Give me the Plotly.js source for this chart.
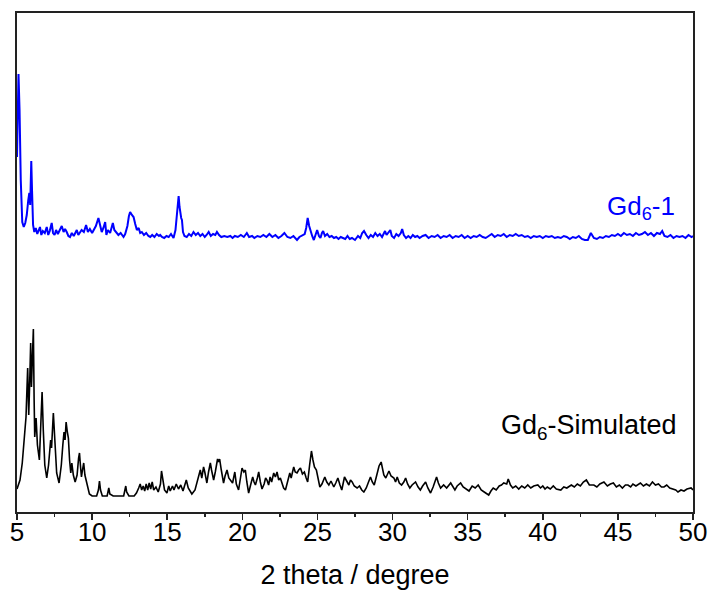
<!DOCTYPE html>
<html>
<head>
<meta charset="utf-8">
<script src="https://cdn.plot.ly/plotly-3.0.1.min.js"></script>
<style>html,body{margin:0;padding:0;background:#fff;}#chart{width:710px;height:592px;}</style>
</head>
<body>
<div id="chart"></div>
<script>
// 2 theta (degree) and intensity (offset-stacked, arbitrary units)
const simTheta = [5.00,5.20,5.35,5.50,5.60,5.71,5.78,5.85,5.91,5.96,6.03,6.09,6.14,6.18,6.27,6.36,6.49,6.58,6.67,6.75,6.85,6.98,7.10,7.24,7.30,7.42,7.52,7.64,7.80,7.95,8.05,8.13,8.20,8.27,8.35,8.42,8.50,8.58,8.65,8.75,8.87,9.00,9.10,9.16,9.22,9.29,9.36,9.44,9.52,9.64,9.82,10.00,10.30,10.42,10.49,10.56,10.68,11.00,11.07,11.11,11.18,11.40,12.10,12.18,12.24,12.30,12.45,12.80,12.95,13.10,13.20,13.30,13.40,13.50,13.60,13.70,13.80,13.90,14.00,14.10,14.25,14.40,14.55,14.62,14.70,14.82,14.98,15.10,15.20,15.35,15.45,15.60,15.75,15.90,16.05,16.15,16.27,16.40,16.64,16.85,17.00,17.09,17.20,17.30,17.42,17.50,17.64,17.75,17.87,17.95,18.09,18.20,18.35,18.42,18.49,18.60,18.75,18.85,18.98,19.10,19.20,19.35,19.50,19.60,19.75,19.88,19.98,20.10,20.20,20.30,20.42,20.55,20.69,20.78,20.87,21.00,21.09,21.20,21.31,21.45,21.55,21.64,21.75,21.85,21.95,22.09,22.20,22.31,22.42,22.53,22.65,22.75,22.87,23.00,23.16,23.25,23.42,23.52,23.64,23.75,23.87,24.00,24.13,24.25,24.35,24.48,24.60,24.70,24.80,24.93,25.05,25.16,25.30,25.49,25.62,25.76,25.90,26.09,26.22,26.36,26.50,26.62,26.80,26.95,27.09,27.20,27.31,27.45,27.64,27.80,27.95,28.09,28.25,28.40,28.53,28.65,28.78,28.90,28.98,29.10,29.24,29.32,29.42,29.55,29.65,29.76,29.90,30.09,30.20,30.31,30.45,30.60,30.75,30.87,31.00,31.15,31.30,31.53,31.70,31.85,32.00,32.20,32.35,32.53,32.70,32.85,32.93,33.05,33.20,33.40,33.60,33.87,34.00,34.15,34.30,34.53,34.70,34.90,35.09,35.30,35.50,35.70,35.90,36.10,36.40,36.55,36.70,36.90,37.10,37.25,37.40,37.60,37.70,37.85,38.00,38.20,38.40,38.60,38.80,39.00,39.20,39.40,39.67,39.85,40.00,40.15,40.30,40.50,40.70,40.90,41.20,41.40,41.60,41.90,42.10,42.30,42.50,42.70,42.90,43.10,43.40,43.60,43.80,44.07,44.30,44.50,44.70,44.90,45.10,45.30,45.50,45.67,45.85,46.00,46.20,46.50,46.70,46.90,47.10,47.30,47.50,47.70,47.90,48.07,48.25,48.45,48.65,48.85,49.00,49.20,49.40,49.60,49.87,50.00];
const simIntensity = [23,32,49,72,95,144,97,132,169,125,162,183,112,75,94,67,52,82,120,82,47,34,47,72,64,99,67,39,29,47,67,80,72,90,80,74,52,39,49,37,30,37,54,59,47,35,42,49,37,29,18,16,16,22,31,22,16,16,22,24,18,16,16,22,26,20,16,16,19,24,28,22,26,21,28,22,29,23,30,22,25,20,28,41,32,22,19,26,21,26,22,28,23,27,21,26,32,24,18,22,30,35,42,34,45,40,29,40,49,42,32,40,53,50,53,42,29,36,42,34,32,29,40,28,22,36,44,40,42,30,19,27,35,30,27,34,40,30,23,28,34,32,27,35,30,39,35,40,32,34,28,24,22,30,39,34,45,40,39,42,44,38,40,34,30,47,61,52,45,42,32,25,28,35,30,27,31,25,29,34,27,22,35,30,27,32,30,26,24,26,22,20,24,30,35,30,27,34,40,46,50,44,37,34,38,41,36,34,30,35,29,27,30,34,28,24,27,30,25,22,26,30,24,19,25,32,35,29,24,27,24,29,25,22,26,29,25,23,21,26,24,27,22,20,17,21,24,22,26,27,29,28,33,27,24,26,23,26,24,27,24,26,27,24,26,23,25,23,26,23,22,25,24,27,25,28,26,30,32,27,27,25,28,30,26,28,29,25,27,24,27,27,25,28,26,29,26,28,26,30,27,28,25,25,27,24,23,22,20,22,21,23,24,22];

const expTheta = [5.00,5.05,5.10,5.17,5.25,5.35,5.45,5.55,5.65,5.75,5.82,5.88,5.95,6.00,6.07,6.15,6.25,6.35,6.45,6.53,6.62,6.72,6.85,6.98,7.08,7.18,7.31,7.40,7.50,7.60,7.72,7.85,7.98,8.10,8.20,8.31,8.42,8.53,8.65,8.78,8.90,8.98,9.08,9.18,9.30,9.45,9.60,9.72,9.85,10.00,10.10,10.25,10.42,10.53,10.64,10.75,10.87,10.95,11.05,11.20,11.38,11.48,11.60,11.75,11.90,12.09,12.20,12.35,12.45,12.53,12.65,12.76,12.87,12.98,13.10,13.20,13.31,13.45,13.60,13.75,13.87,14.00,14.15,14.30,14.45,14.53,14.65,14.80,14.95,15.10,15.25,15.42,15.55,15.65,15.70,15.76,15.82,15.87,15.93,15.98,16.05,16.15,16.30,16.45,16.60,16.75,16.90,17.05,17.20,17.35,17.50,17.62,17.76,17.90,18.05,18.20,18.31,18.45,18.60,18.80,19.00,19.20,19.35,19.50,19.70,19.90,20.10,20.30,20.45,20.65,20.80,21.00,21.20,21.40,21.60,21.80,22.00,22.20,22.40,22.60,22.80,23.00,23.20,23.40,23.64,23.80,24.00,24.15,24.25,24.35,24.45,24.55,24.65,24.76,24.85,24.98,25.10,25.20,25.30,25.38,25.50,25.65,25.80,25.95,26.10,26.25,26.40,26.55,26.70,26.85,27.00,27.15,27.30,27.50,27.70,27.85,27.98,28.10,28.25,28.40,28.55,28.70,28.85,29.00,29.15,29.30,29.50,29.60,29.75,29.85,29.95,30.10,30.25,30.40,30.55,30.64,30.75,30.90,31.05,31.20,31.35,31.50,31.65,31.80,32.00,32.20,32.40,32.60,32.80,33.00,33.20,33.40,33.60,33.80,34.00,34.20,34.40,34.60,34.80,35.00,35.20,35.40,35.60,35.80,36.00,36.20,36.40,36.60,36.80,37.00,37.20,37.40,37.60,37.80,38.00,38.20,38.40,38.60,38.80,39.00,39.20,39.40,39.60,39.80,40.00,40.20,40.40,40.60,40.80,41.00,41.20,41.40,41.60,41.80,42.00,42.20,42.40,42.60,42.80,43.00,43.20,43.40,43.60,43.80,44.00,44.20,44.40,44.60,44.80,45.00,45.20,45.40,45.60,45.80,46.00,46.20,46.40,46.60,46.80,47.00,47.20,47.40,47.60,47.80,47.95,48.10,48.30,48.50,48.70,48.90,49.10,49.30,49.50,49.70,49.90,50.00];
const expIntensity = [355,412,438,402,332,290,285,289,297,312,319,307,351,322,287,280,284,278,283,285,277,281,279,285,277,281,289,279,277,282,278,282,286,280,283,280,276,275,279,276,280,282,277,279,282,280,287,280,283,279,282,286,294,288,280,284,290,277,282,279,289,282,280,277,279,275,278,286,296,300,297,295,288,282,284,279,280,277,279,276,275,277,275,278,276,277,275,274,276,275,278,274,282,300,312,316,305,299,294,292,280,276,275,278,276,280,277,279,276,278,275,277,280,276,278,277,280,277,275,276,275,276,274,276,275,277,275,279,275,276,274,276,275,277,275,278,275,277,274,276,279,275,274,276,272,275,277,278,284,294,286,280,276,272,277,282,276,274,279,281,276,278,275,276,274,275,273,275,274,273,276,273,274,272,276,274,279,281,277,274,277,275,279,276,278,275,281,277,280,282,276,274,278,276,279,283,277,274,276,274,277,275,276,274,276,277,274,276,275,277,274,276,275,277,274,276,275,277,274,276,274,276,275,277,275,274,276,278,275,277,276,278,275,277,276,278,276,277,275,276,274,276,275,276,274,276,275,276,274,275,274,276,275,273,275,274,276,273,272,272,279,274,273,275,274,276,275,277,276,278,276,279,277,278,276,279,277,278,280,277,279,276,279,278,281,276,275,277,274,276,275,276,274,277,275,276];

const labelExp = "Gd<sub>6</sub>-1";
const labelSim = "Gd<sub>6</sub>-Simulated";
const xTickVals = [5,10,15,20,25,30,35,40,45,50];

const font = "Liberation Sans, Arial, sans-serif";

const traces = [
  {x: simTheta, y: simIntensity, type: "scatter", mode: "lines", line: {color: "#000000", width: 1.6}, hoverinfo: "skip"},
  {x: expTheta, y: expIntensity, type: "scatter", mode: "lines", line: {color: "#0000ff", width: 2}, hoverinfo: "skip"}
];

const layout = {
  width: 710, height: 592,
  margin: {l: 17, r: 17, t: 13, b: 80, pad: 0},
  paper_bgcolor: "#ffffff", plot_bgcolor: "#ffffff",
  showlegend: false,
  font: {family: font, color: "#000000"},
  xaxis: {
    range: [5, 50], tickvals: xTickVals, ticktext: xTickVals.map(String),
    showgrid: false, zeroline: false,
    showline: true, linecolor: "#222222", linewidth: 1.8, mirror: true,
    ticks: "outside", ticklen: 6, tickwidth: 1.5, tickcolor: "#222222",
    ticklabelstandoff: -10,
    minor: {ticks: "outside", ticklen: 3.5, tickwidth: 1.5, tickcolor: "#222222", dtick: 2.5, tick0: 2.5, showgrid: false},
    tickfont: {family: font, size: 26, color: "#000000"},
    title: {text: "2 theta / degree", font: {family: font, size: 27, color: "#000000"}, standoff: 19}
  },
  yaxis: {
    range: [0, 499], showticklabels: false, ticks: "", showgrid: false, zeroline: false,
    showline: true, linecolor: "#222222", linewidth: 1.8, mirror: true
  },
  annotations: [
    {x: 48.95, y: 305, xref: "x", yref: "y", text: labelExp, showarrow: false, xanchor: "right", yanchor: "middle",
     font: {family: font, size: 26, color: "#0000ff"}},
    {x: 49.1, y: 85, xref: "x", yref: "y", text: labelSim, showarrow: false, xanchor: "right", yanchor: "middle",
     font: {family: font, size: 27, color: "#000000"}}
  ]
};

Plotly.newPlot("chart", traces, layout, {displayModeBar: false, staticPlot: true});
</script>
</body>
</html>
